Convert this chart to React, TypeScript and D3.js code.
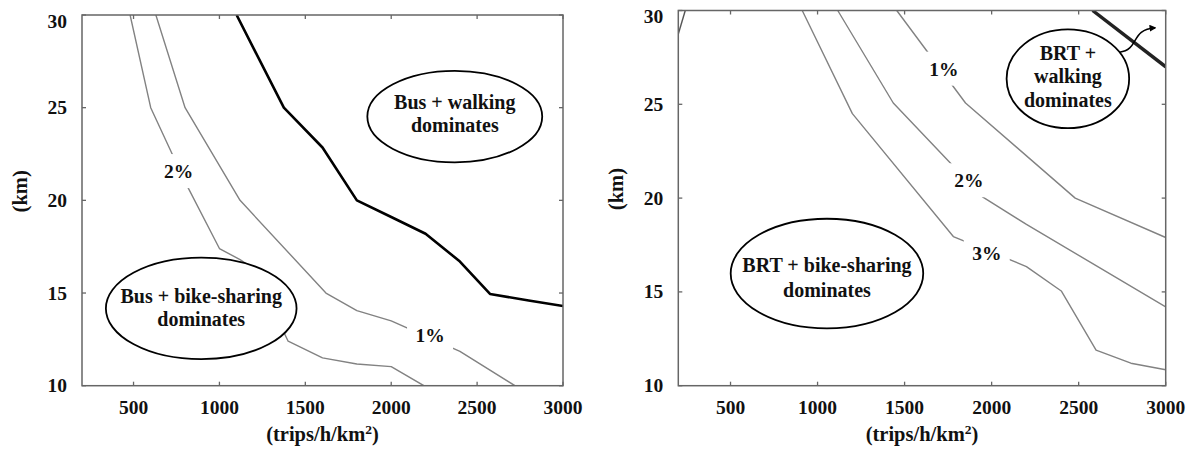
import React from 'react';
import * as d3 from 'd3';

type Pt = [number, number];

// ---------- data ----------
const X_TICKS = [500, 1000, 1500, 2000, 2500, 3000];
const Y_TICKS = [10, 15, 20, 25, 30];
const X_DOMAIN: Pt = [200, 3000];
const Y_DOMAIN: Pt = [10, 30];
const X_LABEL = '(trips/h/km';
const Y_LABEL = '(km)';

// Left panel: Bus
const busWalkingBoundary: Pt[] = [[1100, 30], [1375, 25], [1600, 22.85], [1800, 20], [2000, 19.1], [2200, 18.2], [2400, 16.7], [2575, 14.95], [2800, 14.6], [3000, 14.3]];
const bus2Percent: Pt[] = [[480, 30], [600, 25], [800, 21], [1000, 17.4], [1120, 16.8], [1200, 16.3], [1400, 12.4], [1600, 11.5], [1800, 11.17], [2000, 11.03], [2190, 10]];
const bus1Percent: Pt[] = [[630, 30], [800, 25], [1120, 20], [1620, 15], [1800, 14.05], [2000, 13.5], [2400, 11.85], [2720, 10]];

// Right panel: BRT
const brtCorner: Pt[] = [[200, 28.75], [240, 30]];
const brt3Percent: Pt[] = [[912, 30], [1200, 24.5], [1780, 17.95], [2200, 16.35], [2400, 15.05], [2600, 11.9], [2800, 11.2], [3000, 10.85]];
const brt2Percent: Pt[] = [[1116, 30], [1435, 25.07], [1950, 20.05], [2200, 18.6], [2600, 16.4], [3000, 14.2]];
const brt1Percent: Pt[] = [[1455, 30], [1850, 25.07], [2480, 20], [3000, 17.9]];
const brtWalkingBoundary: Pt[] = [[2580, 30], [3000, 27.0]];

const busLabelTexts = ['2%', '1%'];
const busRegionTexts = [['Bus + walking', 'dominates'], ['Bus + bike-sharing', 'dominates']];
const brtLabelTexts = ['1%', '2%', '3%'];
const brtRegionTexts = [['BRT +', 'walking', 'dominates'], ['BRT + bike-sharing', 'dominates']];

// ---------- layout ----------
const FONT = '"Liberation Serif", "Times New Roman", Times, serif';
const GRAY = '#828282';
const FRAME = '#666';

interface Region { lines: string[]; cx: number; cy: number; rx: number; ry: number; dy: number[] }
interface Label { text: string; x: number; y: number }
interface Series { pts: Pt[]; color: string; width: number }
interface PanelProps {
  id: string;
  x0: number; x1: number; y0: number; y1: number;
  series: Series[];
  labels: Label[];
  regions: Region[];
  arrow?: { p0: Pt; c1: Pt; c2: Pt; p3: Pt };
}

const Panel: React.FC<PanelProps> = ({ id, x0, x1, y0, y1, series, labels, regions, arrow }) => {
  const x = d3.scaleLinear().domain(X_DOMAIN).range([x0, x1]);
  const y = d3.scaleLinear().domain(Y_DOMAIN).range([y0, y1]);
  const line = d3.line<Pt>().x(d => x(d[0])).y(d => y(d[1]));
  const tl = 4;
  const midX = (x0 + x1) / 2;
  const midY = (y0 + y1) / 2;
  let arrowPath = '';
  if (arrow) {
    const p = d3.path();
    p.moveTo(x(arrow.p0[0]), y(arrow.p0[1]));
    p.bezierCurveTo(x(arrow.c1[0]), y(arrow.c1[1]), x(arrow.c2[0]), y(arrow.c2[1]), x(arrow.p3[0]), y(arrow.p3[1]));
    arrowPath = p.toString();
  }
  return (
    <g>
      <defs>
        <clipPath id={`clip-${id}`}>
          <rect x={x0} y={y1} width={x1 - x0} height={y0 - y1} />
        </clipPath>
        <marker id={`arrow-${id}`} viewBox="0 0 10 10" refX="8" refY="5" markerWidth="7" markerHeight="7" orient="auto" markerUnits="userSpaceOnUse">
          <path d="M0,0 L10,5 L0,10 z" fill="#000" />
        </marker>
      </defs>
      <g clipPath={`url(#clip-${id})`}>
        {series.map((s, i) => (
          <path key={i} d={line(s.pts) || ''} fill="none" stroke={s.color} strokeWidth={s.width} strokeLinejoin="round" />
        ))}
        {labels.map((l, i) => (
          <rect key={i} x={x(l.x) - 23} y={y(l.y) - 17} width={46} height={34} fill="#fff" />
        ))}
      </g>
      {labels.map((l, i) => (
        <text key={i} x={x(l.x)} y={y(l.y)} dy="0.36em" textAnchor="middle" fontFamily={FONT} fontWeight="bold" fontSize={19.5} fill="#111">{l.text}</text>
      ))}
      {regions.map((r, i) => {
        const cx = x(r.cx), cy = y(r.cy);
        const rx = x(r.cx + r.rx) - cx;
        const ry = cy - y(r.cy + r.ry);
        return (
          <g key={i}>
            <ellipse cx={cx} cy={cy} rx={rx} ry={ry} fill="#fff" stroke="#000" strokeWidth={1.8} />
            {r.lines.map((t, j) => (
              <text key={j} x={cx} y={cy + r.dy[j]} textAnchor="middle" fontFamily={FONT} fontWeight="bold" fontSize={20} fill="#111">{t}</text>
            ))}
          </g>
        );
      })}
      {arrow && (
        <path d={arrowPath} fill="none" stroke="#000" strokeWidth={1.5} markerEnd={`url(#arrow-${id})`} />
      )}
      <rect x={x0} y={y1} width={x1 - x0} height={y0 - y1} fill="none" stroke={FRAME} strokeWidth={1.5} />
      {X_TICKS.map(t => (
        <g key={`xt${t}`}>
          <line x1={x(t)} x2={x(t)} y1={y0} y2={y0 - tl} stroke={FRAME} strokeWidth={1.3} />
          <line x1={x(t)} x2={x(t)} y1={y1} y2={y1 + tl} stroke={FRAME} strokeWidth={1.3} />
          <text x={x(t)} y={y0 + 28} textAnchor="middle" fontFamily={FONT} fontWeight="bold" fontSize={19.5} fill="#111">{t}</text>
        </g>
      ))}
      {Y_TICKS.map(t => (
        <g key={`yt${t}`}>
          <line x1={x0} x2={x0 + tl} y1={y(t)} y2={y(t)} stroke={FRAME} strokeWidth={1.3} />
          <line x1={x1} x2={x1 - tl} y1={y(t)} y2={y(t)} stroke={FRAME} strokeWidth={1.3} />
          <text x={x0 - 15} y={y(t) + (t === Y_DOMAIN[1] ? 12.8 : 6.5)} textAnchor="end" fontFamily={FONT} fontWeight="bold" fontSize={19.5} fill="#111">{t}</text>
        </g>
      ))}
      <text x={midX} y={441} textAnchor="middle" fontFamily={FONT} fontWeight="bold" fontSize={20.5} fill="#111">
        {X_LABEL}<tspan fontSize={13.5} dy={-7}>2</tspan><tspan dy={7}>)</tspan>
      </text>
      <text transform={`translate(${x0 - 62},${midY - 9}) rotate(-90)`} textAnchor="middle" dy="0.35em" fontFamily={FONT} fontWeight="bold" fontSize={20.5} fill="#111">{Y_LABEL}</text>
    </g>
  );
};

export default function App() {
  const leftSeries: Series[] = [
    { pts: bus2Percent, color: GRAY, width: 1.4 },
    { pts: bus1Percent, color: GRAY, width: 1.4 },
    { pts: busWalkingBoundary, color: '#000', width: 2.6 },
  ];
  const leftLabels: Label[] = [
    { text: busLabelTexts[0], x: 762, y: 21.58 },
    { text: busLabelTexts[1], x: 2226, y: 12.75 },
  ];
  const leftRegions: Region[] = [
    { lines: busRegionTexts[0], cx: 2370, cy: 24.52, rx: 509, ry: 2.47, dy: [-8, 15] },
    { lines: busRegionTexts[1], cx: 894, cy: 14.17, rx: 555, ry: 2.74, dy: [-5, 18] },
  ];
  const rightSeries: Series[] = [
    { pts: brtCorner, color: '#555', width: 1.4 },
    { pts: brt3Percent, color: GRAY, width: 1.4 },
    { pts: brt2Percent, color: GRAY, width: 1.4 },
    { pts: brt1Percent, color: GRAY, width: 1.4 },
    { pts: brtWalkingBoundary, color: '#222', width: 3.4 },
  ];
  const rightLabels: Label[] = [
    { text: brtLabelTexts[0], x: 1726, y: 26.9 },
    { text: brtLabelTexts[1], x: 1870, y: 20.95 },
    { text: brtLabelTexts[2], x: 1972, y: 17.05 },
  ];
  const rightRegions: Region[] = [
    { lines: brtRegionTexts[0], cx: 2438, cy: 26.36, rx: 352, ry: 2.63, dy: [-19, 4.5, 28] },
    { lines: brtRegionTexts[1], cx: 1054, cy: 15.98, rx: 553, ry: 2.92, dy: [-2, 23] },
  ];
  return (
    <svg width={1196} height={456} style={{ position: 'absolute', left: 0, top: 0, background: '#fff' }}>
      <rect x={0} y={0} width={1196} height={456} fill="#fff" />
      <Panel id="bus" x0={82} x1={563} y0={385.7} y1={15}
        series={leftSeries} labels={leftLabels} regions={leftRegions} />
      <Panel id="brt" x0={678.3} x1={1165.7} y0={385.7} y1={10.5}
        series={rightSeries} labels={rightLabels} regions={rightRegions}
        arrow={{ p0: [2735, 27.78], c1: [2852, 27.92], c2: [2795, 29.0], p3: [2939, 29.07] }} />
    </svg>
  );
}
